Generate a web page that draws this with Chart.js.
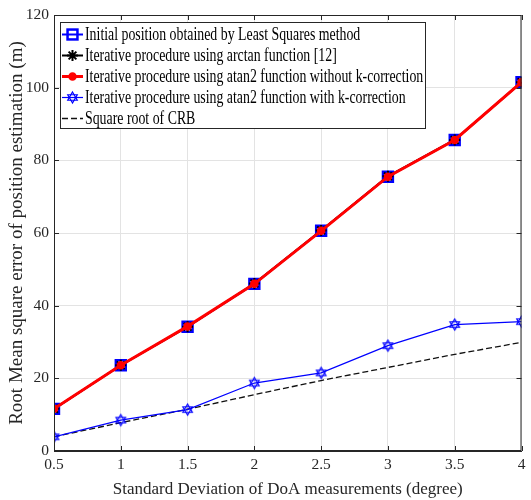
<!DOCTYPE html>
<html>
<head>
<meta charset="utf-8">
<script src="https://cdn.jsdelivr.net/npm/chart.js@4.4.1/dist/chart.umd.min.js"></script>
<style>
html, body { margin: 0; padding: 0; background: #fff; }
#wrap { width: 531px; height: 500px; }
</style>
</head>
<body>
<div id="wrap"><canvas id="rmseChart" width="531" height="500"></canvas></div>
<script>
// std deviation of DoA (degree)
const doaStd = [0.5, 1, 1.5, 2, 2.5, 3, 3.5, 4];

// RMSE of position (m)
const leastSquares = [11.6, 23.6, 34.2, 46.0, 60.6, 75.5, 85.6, 101.5];
const arctanIter = [11.6, 23.6, 34.2, 46.1, 60.7, 75.6, 85.6, 101.5];
const atan2NoK = [11.6, 23.6, 34.3, 46.0, 60.6, 75.5, 85.6, 101.5];
const atan2WithK = [3.9, 8.5, 11.4, 18.7, 21.5, 29.0, 34.8, 35.6];
const sqrtCrb = [3.9, 7.8, 11.5, 15.5, 19.4, 23.0, 26.6, 29.9];

const xTickValues = [0.5, 1, 1.5, 2, 2.5, 3, 3.5, 4];
const xTickLabels = ['0.5', '1', '1.5', '2', '2.5', '3', '3.5', '4'];
const yTickValues = [0, 20, 40, 60, 80, 100, 120];

const seriesNames = [
    'Initial position obtained by Least Squares method',
    'Iterative procedure using arctan function [12]',
    'Iterative procedure using atan2 function without k-correction',
    'Iterative procedure using atan2 function with k-correction',
    'Square root of CRB'
];

const SERIF = '"Liberation Serif", "Times New Roman", serif';
const AXIS = '#262626';

function hexagram(color, r) {
    const s = Math.ceil(r * 2 + 4);
    const c = document.createElement('canvas');
    c.width = s; c.height = s;
    const g = c.getContext('2d');
    g.strokeStyle = color;
    g.lineWidth = 1.2;
    for (const off of [-Math.PI / 2, Math.PI / 2]) {
        g.beginPath();
        for (let i = 0; i < 3; i++) {
            const a = off + i * 2 * Math.PI / 3;
            const px = s / 2 + r * Math.cos(a), py = s / 2 + r * Math.sin(a);
            if (i) g.lineTo(px, py); else g.moveTo(px, py);
        }
        g.closePath();
        g.stroke();
    }
    return c;
}
const hexMarker = hexagram('#0000ff', 5.5);

function toPoints(ys) {
    return doaStd.map((x, i) => ({ x: x, y: ys[i] }));
}

// draws a marker like the dataset's, used by the legend
function drawMarker(ctx, ds, x, y) {
    const r = ds.pointRadius;
    ctx.save();
    ctx.strokeStyle = ds.pointBorderColor;
    ctx.fillStyle = ds.pointBackgroundColor;
    ctx.lineWidth = ds.pointBorderWidth;
    ctx.setLineDash([]);
    if (ds.pointStyle === 'rect') {
        const h = Math.SQRT1_2 * r;
        ctx.strokeRect(x - h, y - h, 2 * h, 2 * h);
    } else if (ds.pointStyle === 'star') {
        ctx.beginPath();
        ctx.moveTo(x - r, y); ctx.lineTo(x + r, y);
        ctx.moveTo(x, y - r); ctx.lineTo(x, y + r);
        const d = r * Math.SQRT1_2;
        ctx.moveTo(x - d, y - d); ctx.lineTo(x + d, y + d);
        ctx.moveTo(x - d, y + d); ctx.lineTo(x + d, y - d);
        ctx.stroke();
    } else if (ds.pointStyle === 'circle') {
        ctx.beginPath();
        ctx.arc(x, y, r, 0, Math.PI * 2);
        ctx.fill();
        ctx.stroke();
    } else if (ds.pointStyle instanceof HTMLCanvasElement) {
        const img = ds.pointStyle;
        ctx.drawImage(img, x - img.width / 2, y - img.height / 2);
    }
    ctx.restore();
}

const boxPlugin = {
    id: 'matlabBox',
    afterDraw(chart) {
        const ctx = chart.ctx;
        const a = chart.chartArea;
        const xs = chart.scales.x, ys = chart.scales.y;
        ctx.save();
        ctx.strokeStyle = AXIS;
        ctx.lineWidth = 1;
        ctx.strokeRect(a.left + 0.5, a.top + 0.5, a.right - a.left - 1, a.bottom - a.top - 1);
        const t = 5;
        ctx.beginPath();
        xs.ticks.forEach(tk => {
            const px = Math.round(xs.getPixelForValue(tk.value)) + 0.5;
            ctx.moveTo(px, a.bottom); ctx.lineTo(px, a.bottom - t);
            ctx.moveTo(px, a.top); ctx.lineTo(px, a.top + t);
        });
        ys.ticks.forEach(tk => {
            const py = Math.round(ys.getPixelForValue(tk.value)) + 0.5;
            ctx.moveTo(a.left, py); ctx.lineTo(a.left + t, py);
            ctx.moveTo(a.right, py); ctx.lineTo(a.right - t, py);
        });
        ctx.stroke();

        // legend box
        const bx = 60, by = 22, bw = 365, bh = 106;
        ctx.fillStyle = '#ffffff';
        ctx.fillRect(bx, by, bw, bh);
        ctx.strokeStyle = AXIS;
        ctx.strokeRect(bx + 0.5, by + 0.5, bw, bh);
        const rowH = 21;
        chart.data.datasets.forEach((ds, i) => {
            const cy = by + 12.5 + i * rowH;
            ctx.save();
            ctx.strokeStyle = ds.borderColor;
            ctx.lineWidth = ds.borderWidth;
            ctx.setLineDash(ds.borderDash || []);
            ctx.beginPath();
            ctx.moveTo(bx + 2, cy);
            ctx.lineTo(bx + 23, cy);
            ctx.stroke();
            ctx.restore();
            if (ds.pointRadius > 0) drawMarker(ctx, ds, bx + 12.5, cy);
            ctx.save();
            ctx.translate(bx + 25, cy);
            ctx.scale(1, 1.3);
            ctx.fillStyle = '#000';
            ctx.font = '13.85px ' + SERIF;
            ctx.textBaseline = 'middle';
            ctx.fillText(ds.label, 0, 0.5);
            ctx.restore();
        });
        ctx.restore();
    }
};

const rmseChart = new Chart(document.getElementById('rmseChart').getContext('2d'), {
    type: 'line',
    data: {
        datasets: [
            {
                label: seriesNames[0],
                data: toPoints(leastSquares),
                borderColor: '#0000ff',
                borderWidth: 2,
                pointStyle: 'rect',
                pointRadius: 7,
                pointBorderWidth: 2.5,
                pointBorderColor: '#0000ff',
                pointBackgroundColor: 'rgba(0,0,0,0)',
                order: 4
            },
            {
                label: seriesNames[1],
                data: toPoints(arctanIter),
                borderColor: '#000000',
                borderWidth: 2,
                pointStyle: 'star',
                pointRadius: 5.5,
                pointBorderWidth: 2,
                pointBorderColor: '#000000',
                pointBackgroundColor: '#000000',
                order: 3
            },
            {
                label: seriesNames[2],
                data: toPoints(atan2NoK),
                borderColor: '#ff0000',
                borderWidth: 3,
                pointStyle: 'circle',
                pointRadius: 3.5,
                pointBorderWidth: 1.5,
                pointBorderColor: '#ff0000',
                pointBackgroundColor: '#ff0000',
                order: 0
            },
            {
                label: seriesNames[3],
                data: toPoints(atan2WithK),
                borderColor: '#0000ff',
                borderWidth: 1.2,
                pointStyle: hexMarker,
                pointRadius: 5.5,
                pointBorderWidth: 1.2,
                pointBorderColor: '#0000ff',
                pointBackgroundColor: 'rgba(0,0,0,0)',
                order: 1
            },
            {
                label: seriesNames[4],
                data: toPoints(sqrtCrb),
                borderColor: '#111111',
                borderWidth: 1.3,
                borderDash: [6, 3],
                pointRadius: 0,
                pointBorderWidth: 0,
                pointBorderColor: '#000000',
                pointBackgroundColor: '#000000',
                order: 2
            }
        ]
    },
    options: {
        responsive: false,
        devicePixelRatio: 1,
        animation: false,
        layout: { padding: { top: 15, right: 6, left: 0, bottom: 0 } },
        elements: { line: { tension: 0 } },
        plugins: {
            legend: { display: false },
            tooltip: { enabled: false }
        },
        scales: {
            x: {
                type: 'linear',
                min: 0.5,
                max: 4,
                afterBuildTicks: s => { s.ticks = xTickValues.map(v => ({ value: v })); },
                afterFit: s => { s.height = 49; s.paddingRight = 0; },
                grid: { color: '#e3e3e3', lineWidth: 1, drawTicks: false },
                border: { color: AXIS, width: 1 },
                ticks: {
                    color: '#262626',
                    padding: 5,
                    maxRotation: 0,
                    callback: (v, i) => xTickLabels[i],
                    font: { family: SERIF, size: 15.5 }
                },
                title: {
                    display: true,
                    text: 'Standard Deviation of DoA measurements (degree)',
                    color: '#262626',
                    padding: { top: 0, bottom: 0 },
                    font: { family: SERIF, size: 17 }
                }
            },
            y: {
                type: 'linear',
                min: 0,
                max: 120,
                afterBuildTicks: s => { s.ticks = yTickValues.map(v => ({ value: v })); },
                afterFit: s => { s.width = 54; },
                grid: { color: '#e3e3e3', lineWidth: 1, drawTicks: false },
                border: { color: AXIS, width: 1 },
                ticks: {
                    color: '#262626',
                    padding: 5,
                    font: { family: SERIF, size: 15.5 }
                },
                title: {
                    display: true,
                    text: 'Root Mean square error of position estimation (m)',
                    color: '#262626',
                    padding: { top: 6, bottom: 0 },
                    font: { family: SERIF, size: 19 }
                }
            }
        }
    },
    plugins: [boxPlugin]
});
</script>
</body>
</html>
